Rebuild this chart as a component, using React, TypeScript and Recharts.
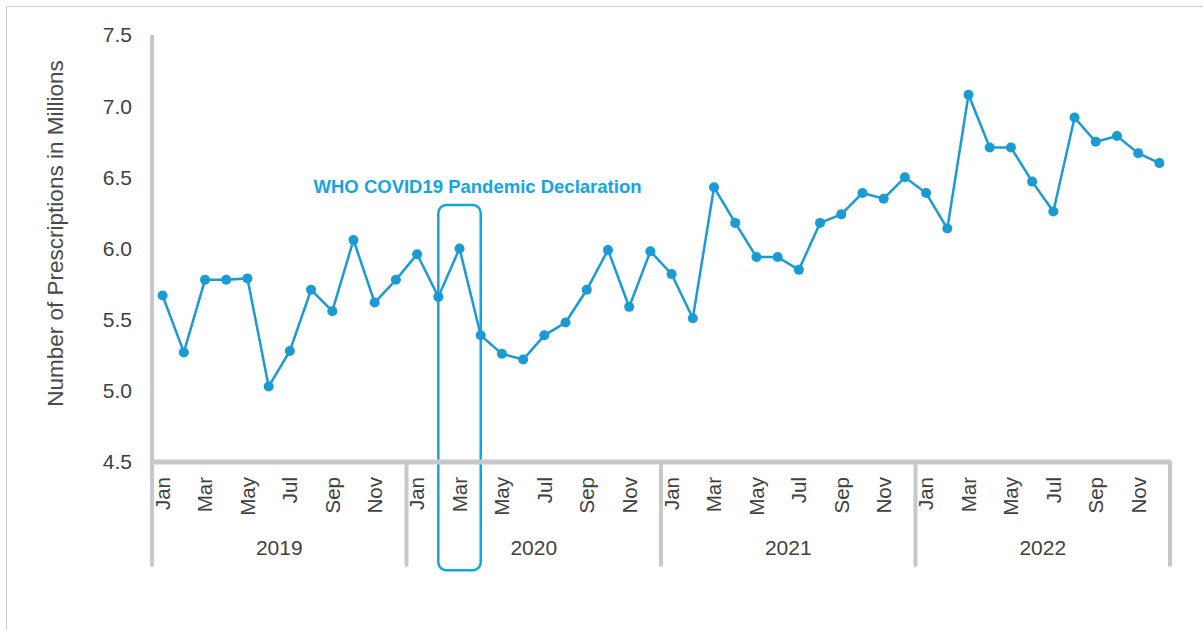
import React from "react";
import { LineChart, Line, XAxis, YAxis, ReferenceArea } from "recharts";

const MONTHS = ["Jan", "Feb", "Mar", "Apr", "May", "Jun", "Jul", "Aug", "Sep", "Oct", "Nov", "Dec"];
const YEARS = ["2019", "2020", "2021", "2022"];
const V2019 = [5.67, 5.27, 5.78, 5.78, 5.79, 5.03, 5.28, 5.71, 5.56, 6.06, 5.62, 5.78];
const V2020 = [5.96, 5.66, 6.0, 5.39, 5.26, 5.22, 5.39, 5.48, 5.71, 5.99, 5.59, 5.98];
const V2021 = [5.82, 5.51, 6.43, 6.18, 5.94, 5.94, 5.85, 6.18, 6.24, 6.39, 6.35, 6.5];
const V2022 = [6.39, 6.14, 7.08, 6.71, 6.71, 6.47, 6.26, 6.92, 6.75, 6.79, 6.67, 6.6];
const Y_TICKS = [4.5, 5.0, 5.5, 6.0, 6.5, 7.0, 7.5];
const Y_TITLE = "Number of Prescriptions in Millions";
const ANNOTATION = "WHO COVID19 Pandemic Declaration";
const ANNOT_X = [13, 15];
const ANNOT_Y = [3.74, 6.306];

const SERIES = [V2019, V2020, V2021, V2022];
const data = SERIES.flatMap((vals, yi) =>
  vals.map((v, mi) => ({ idx: yi * 12 + mi, label: `${MONTHS[mi]} ${YEARS[yi]}`, v }))
);

const N = data.length;
const monthTicks = data.filter((d) => d.idx % 2 === 0).map((d) => d.idx);
const sepTicks = YEARS.map((_, i) => i * 12 - 0.5).concat([N - 0.5]);
const yearTicks = YEARS.map((_, i) => i * 12 + 5.5);
const xTicks = [...sepTicks, ...monthTicks, ...yearTicks].sort((a, b) => a - b);

const FONT = "'Liberation Sans', Arial, Helvetica, sans-serif";
const AXIS = "#c8c8ca";
const TEXT = "#404040";
const LINE = "#1a9bd3";
const ANNOT = "#13a5e2";
const FRAME = "#d0d0d0";

const XTick = (props: any) => {
  const { x, y, payload } = props;
  const v = payload.value as number;
  if (Number.isInteger(v)) {
    return (
      <g transform={`translate(${x},${y + 15})`}>
        <text transform="rotate(-90)" textAnchor="end" dy="0.36em" fontSize={20.5} fill={TEXT} fontFamily={FONT}>
          {MONTHS[v % 12]}
        </text>
      </g>
    );
  }
  if ((v + 0.5) % 12 === 0) {
    return <line x1={x} x2={x} y1={y} y2={y + 103} stroke={AXIS} strokeWidth={4} strokeLinecap="round" />;
  }
  return (
    <text x={x} y={y + 93} textAnchor="middle" fontSize={21} fill={TEXT} fontFamily={FONT}>
      {YEARS[Math.floor(v / 12)]}
    </text>
  );
};

const AnnotShape = (props: any) => {
  const { x, y, width, height } = props;
  return (
    <g>
      <rect x={x} y={y} width={width} height={height} rx={8} ry={8} fill="none" stroke={ANNOT} strokeWidth={2.5} />
      <text x={x + width / 2 + 18} y={y - 12} textAnchor="middle" fontSize={18.5} fontWeight="bold" fill={ANNOT} fontFamily={FONT}>
        {ANNOTATION}
      </text>
    </g>
  );
};

export default function App() {
  return (
    <div style={{ position: "absolute", left: 0, top: 0, width: 1203, height: 630, background: "#fff", overflow: "hidden" }}>
      <div
        style={{
          position: "absolute",
          left: 6,
          top: 6,
          width: 1197,
          height: 624,
          borderTop: `1px solid ${FRAME}`,
          borderLeft: `1px solid ${FRAME}`,
          boxSizing: "border-box",
        }}
      />
      <div style={{ position: "absolute", left: 0, top: 0 }}>
        <LineChart width={1203} height={630} data={data} margin={{ top: 35, right: 33, bottom: 18, left: 92 }}>
          <XAxis
            dataKey="idx"
            type="number"
            domain={[-0.5, N - 0.5]}
            ticks={xTicks}
            interval={0}
            tickSize={0}
            tickMargin={0}
            tickLine={false}
            axisLine={{ stroke: AXIS, strokeWidth: 5 }}
            tick={<XTick />}
            height={150}
          />
          <YAxis
            type="number"
            domain={[4.5, 7.5]}
            ticks={Y_TICKS}
            tickFormatter={(v: number) => v.toFixed(1)}
            axisLine={{ stroke: AXIS, strokeWidth: 4 }}
            tickLine={false}
            tickSize={0}
            tickMargin={20}
            width={60}
            tick={{ fontSize: 21, fill: TEXT, fontFamily: FONT }}
          />
          <Line
            type="linear"
            dataKey="v"
            stroke={LINE}
            strokeWidth={2.5}
            dot={{ r: 5, fill: LINE, stroke: LINE, strokeWidth: 0 }}
            activeDot={false}
            isAnimationActive={false}
          />
          <ReferenceArea
            x1={ANNOT_X[0]}
            x2={ANNOT_X[1]}
            y1={ANNOT_Y[0]}
            y2={ANNOT_Y[1]}
            ifOverflow="visible"
            shape={<AnnotShape />}
          />
        </LineChart>
      </div>
      <svg width={1203} height={630} style={{ position: "absolute", left: 0, top: 0, pointerEvents: "none" }}>
        <text
          transform="translate(63,233.5) rotate(-90)"
          textAnchor="middle"
          fontSize={22.5}
          fill="#4a4a4a"
          fontFamily={FONT}
        >
          {Y_TITLE}
        </text>
      </svg>
    </div>
  );
}
